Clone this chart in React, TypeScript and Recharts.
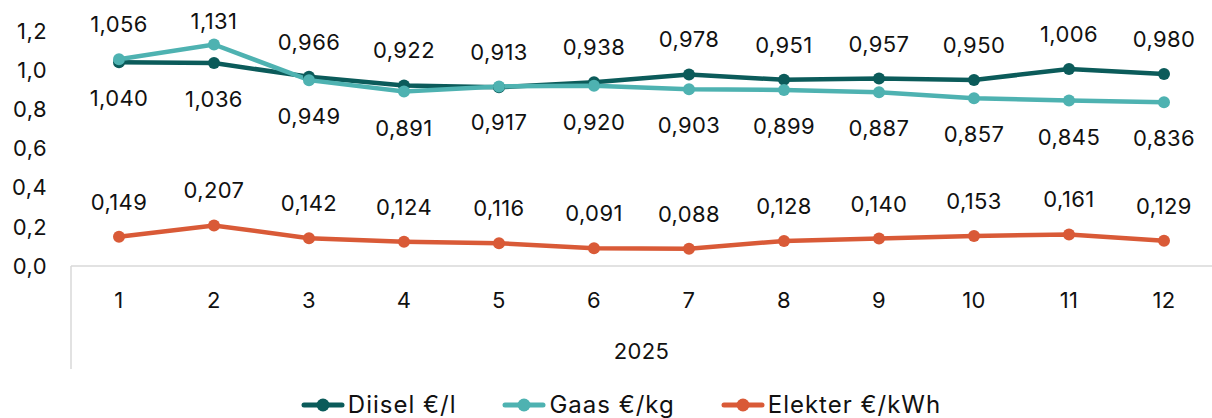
import React from 'react';
import { LineChart, Line, XAxis, YAxis, Legend, LabelList } from 'recharts';

const months = ['1', '2', '3', '4', '5', '6', '7', '8', '9', '10', '11', '12'];
const year = '2025';
const diesel = [1.040, 1.036, 0.966, 0.922, 0.913, 0.938, 0.978, 0.951, 0.957, 0.950, 1.006, 0.980];
const gaas = [1.056, 1.131, 0.949, 0.891, 0.917, 0.920, 0.903, 0.899, 0.887, 0.857, 0.845, 0.836];
const elekter = [0.149, 0.207, 0.142, 0.124, 0.116, 0.091, 0.088, 0.128, 0.140, 0.153, 0.161, 0.129];
const dieselLabelPos = ['below', 'below', 'above', 'above', 'above', 'above', 'above', 'above', 'above', 'above', 'above', 'above'];
const gaasLabelPos = ['above', 'above', 'below', 'below', 'below', 'below', 'below', 'below', 'below', 'below', 'below', 'below'];
const yTicks = [0, 0.2, 0.4, 0.6, 0.8, 1.0, 1.2];

const seriesNames = ['Diisel €/l', 'Gaas €/kg', 'Elekter €/kWh'];
const colors = ['#0B5B5A', '#4EB2B1', '#D95A37'];

const data = months.map((m, i) => ({
  m,
  yr: year,
  diesel: diesel[i],
  gaas: gaas[i],
  elekter: elekter[i],
}));

const FONT = 'Inter, "Noto Sans", sans-serif';
const FS = 22;
const LS = 0.4;
const PAD = 48;
const fmt3 = (v: number) => v.toFixed(3).replace('.', ',');

const makeLabel = (positions: string[]) => (props: any) => {
  const { x, y, value, index } = props;
  const pos = positions[index] || 'above';
  let ty = pos === 'above' ? y - 35 : y + 36;
  if (ty < 21) ty = 21;
  return (
    <text x={x} y={ty} textAnchor="middle" dominantBaseline="central" fontFamily={FONT} fontSize={FS} letterSpacing={LS} fill="#111">
      {fmt3(value)}
    </text>
  );
};

const MonthTick = (props: any) => {
  const { x, y, payload, index } = props;
  return (
    <g>
      {index === 0 && <line x1={x - PAD} y1={y - 26} x2={x - PAD} y2={y + 77} stroke="#D9D9D9" strokeWidth={1.5} />}
      <text x={x} y={y} dy="0.71em" textAnchor="middle" fontFamily={FONT} fontSize={FS} letterSpacing={LS} fill="#111">
        {payload.value}
      </text>
    </g>
  );
};

const LegendContent = () => (
  <div style={{ height: 49, boxSizing: 'border-box', paddingLeft: 30, display: 'flex', justifyContent: 'center', alignItems: 'flex-end', gap: 46, fontFamily: FONT, fontSize: 24, letterSpacing: 1, color: '#111', lineHeight: '26px' }}>
    {seriesNames.map((n, i) => (
      <div key={n} style={{ display: 'flex', alignItems: 'center' }}>
        <svg width={44} height={16} style={{ marginRight: 3 }}>
          <line x1={3} y1={8} x2={41} y2={8} stroke={colors[i]} strokeWidth={5} strokeLinecap="round" />
          <circle cx={22} cy={8} r={6.5} fill={colors[i]} />
        </svg>
        <span>{n}</span>
      </div>
    ))}
  </div>
);

export default function App() {
  return (
    <div style={{ position: 'absolute', left: 0, top: 0, width: 1212, height: 418, background: '#fff' }}>
      <LineChart width={1212} height={418} data={data} margin={{ top: 31, right: 0, left: 0, bottom: 0 }}>
        <XAxis
          dataKey="m"
          padding={{ left: PAD, right: PAD }}
          axisLine={{ stroke: '#D9D9D9', strokeWidth: 1.5 }}
          tickLine={false}
          tickSize={0}
          tickMargin={26}
          height={50}
          tick={<MonthTick />}
          interval={0}
        />
        <XAxis
          xAxisId="yr"
          dataKey="yr"
          allowDuplicatedCategory={false}
          axisLine={false}
          tickLine={false}
          tickSize={0}
          tickMargin={27}
          height={53}
          tick={{ fontFamily: FONT, fontSize: FS, fill: '#111', letterSpacing: LS }}
        />
        <YAxis
          domain={[0, 1.2]}
          ticks={yTicks}
          width={71}
          axisLine={false}
          tickLine={false}
          tickSize={0}
          tickMargin={24}
          tickFormatter={(v: number) => v.toFixed(1).replace('.', ',')}
          tick={{ fontFamily: FONT, fontSize: FS, fill: '#111', letterSpacing: LS }}
        />
        <Legend verticalAlign="bottom" height={49} content={<LegendContent />} />
        <Line dataKey="diesel" name={seriesNames[0]} stroke={colors[0]} strokeWidth={4.5} dot={{ r: 6, fill: colors[0], stroke: colors[0], strokeWidth: 0 }} isAnimationActive={false}>
          <LabelList dataKey="diesel" content={makeLabel(dieselLabelPos)} />
        </Line>
        <Line dataKey="gaas" name={seriesNames[1]} stroke={colors[1]} strokeWidth={4.5} dot={{ r: 6, fill: colors[1], stroke: colors[1], strokeWidth: 0 }} isAnimationActive={false}>
          <LabelList dataKey="gaas" content={makeLabel(gaasLabelPos)} />
        </Line>
        <Line dataKey="elekter" name={seriesNames[2]} stroke={colors[2]} strokeWidth={4.5} dot={{ r: 6, fill: colors[2], stroke: colors[2], strokeWidth: 0 }} isAnimationActive={false}>
          <LabelList dataKey="elekter" content={makeLabel(Array(12).fill('above'))} />
        </Line>
      </LineChart>
    </div>
  );
}
